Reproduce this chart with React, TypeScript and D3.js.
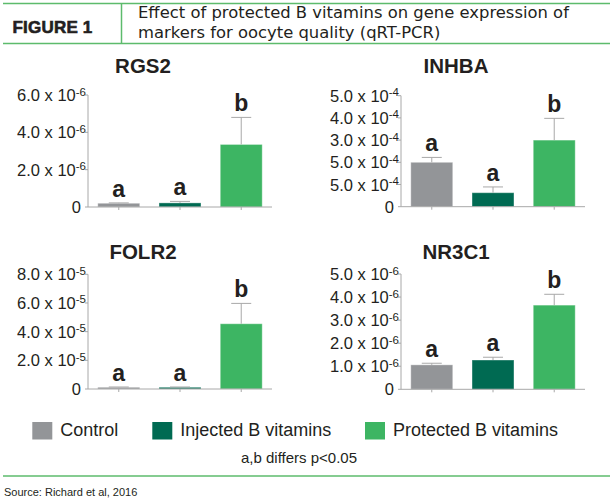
import React from 'react';
import * as d3 from 'd3';

// Treatment groups and colours
const groups = ['Control', 'Injected B vitamins', 'Protected B vitamins'];
const groupColors = ['#939598', '#006a52', '#3db563'];

// Mean expression and top of error bar (in units of the panel exponent)
const rgs2Means = [0.2, 0.22, 3.35];
const rgs2ErrTop = [0.22, 0.3, 4.8];
const inhbaMeans = [2.0, 0.63, 3.0];
const inhbaErrTop = [2.22, 0.89, 3.98];
const folr2Means = [0.12, 0.12, 4.55];
const folr2ErrTop = [0.14, 0.14, 5.97];
const nr3c1Means = [1.06, 1.27, 3.65];
const nr3c1ErrTop = [1.13, 1.39, 4.12];

// Significance letters
const rgs2Letters = ['a', 'a', 'b'];
const inhbaLetters = ['a', 'a', 'b'];
const folr2Letters = ['a', 'a', 'b'];
const nr3c1Letters = ['a', 'a', 'b'];

// Axis ticks and their printed mantissas
const rgs2Ticks = [0, 2, 4, 6];
const rgs2TickLabels = ['0', '2.0', '4.0', '6.0'];
const inhbaTicks = [0, 1, 2, 3, 4, 5];
const inhbaTickLabels = ['0', '5.0', '5.0', '3.0', '4.0', '5.0'];
const folr2Ticks = [0, 2, 4, 6, 8];
const folr2TickLabels = ['0', '2.0', '4.0', '6.0', '8.0'];
const nr3c1Ticks = [0, 1, 2, 3, 4, 5];
const nr3c1TickLabels = ['0', '1.0', '2.0', '3.0', '4.0', '5.0'];

const FONT = '"Liberation Sans", Arial, sans-serif';
const HEAD_FONT = '"DejaVu Sans", sans-serif';
const GREEN_RULE = '#5dbb6c';
const AXIS = '#a8a8a8';
const INK = '#231f20';

interface PanelProps {
  title: string;
  means: number[];
  errTop: number[];
  letters: string[];
  ticks: number[];
  tickLabels: string[];
  exponent: string;
  axisX: number;
  y0: number;
  yTop: number;
  titleY: number;
}

function Panel({ title, means, errTop, letters, ticks, tickLabels, exponent, axisX, y0, yTop, titleY }: PanelProps) {
  const width = 184;
  const x = d3.scaleBand<string>()
    .domain(groups)
    .range([axisX, axisX + width])
    .paddingInner(0.315)
    .paddingOuter(0.16);
  const y = d3.scaleLinear()
    .domain([0, ticks[ticks.length - 1]])
    .range([y0, yTop]);
  const bw = x.bandwidth();

  return (
    <g>
      <text x={axisX + 55} y={titleY} textAnchor="middle" fontFamily={FONT}
        fontWeight="bold" fontSize={20.5} fill={INK}>{title}</text>

      {/* y axis */}
      <line x1={axisX} x2={axisX} y1={yTop} y2={y0} stroke={AXIS} />
      {ticks.map((t, i) => (
        <g key={t}>
          <line x1={axisX - 3} x2={axisX} y1={y(t)} y2={y(t)} stroke={AXIS} />
          {t === 0 ? (
            <text x={axisX - 7} y={y(t) + 6} textAnchor="end" fontFamily={FONT}
              fontSize={16.5} fill={INK}>0</text>
          ) : (
            <text x={axisX - 2} y={y(t) + 6} textAnchor="end" fontFamily={FONT}
              fontSize={16.5} fill={INK}>
              {tickLabels[i]} x 10
              <tspan fontSize={11.5} dy={-5.5}>{exponent}</tspan>
            </text>
          )}
        </g>
      ))}

      {/* bars with upward error bars */}
      {groups.map((g, i) => {
        const cx = (x(g) as number) + bw / 2;
        const ye = y(errTop[i]);
        return (
          <g key={g}>
            <rect x={x(g)} y={y(means[i])} width={bw} height={y0 - y(means[i])}
              fill={groupColors[i]} stroke="#ffffff" strokeOpacity={0.35} strokeWidth={1} />
            <line x1={cx} x2={cx} y1={y(means[i])} y2={ye} stroke={AXIS} />
            <line x1={cx - 10} x2={cx + 10} y1={ye} y2={ye} stroke={AXIS} />
            <text x={cx} y={ye - 6} textAnchor="middle" fontFamily={FONT}
              fontWeight="bold" fontSize={23} fill={INK}>{letters[i]}</text>
          </g>
        );
      })}

      {/* x axis */}
      <line x1={axisX} x2={axisX + width} y1={y0} y2={y0} stroke={AXIS} />
      {groups.map(g => {
        const cx = (x(g) as number) + bw / 2;
        return <line key={g} x1={cx} x2={cx} y1={y0} y2={y0 + 3} stroke={AXIS} />;
      })}
    </g>
  );
}

export default function App() {
  return (
    <svg width={610} height={500} style={{ position: 'absolute', left: 0, top: 0 }}>
      <rect width={610} height={500} fill="#ffffff" />

      {/* header */}
      <line x1={3} x2={610} y1={3.5} y2={3.5} stroke={GREEN_RULE} strokeWidth={1.5} />
      <line x1={3} x2={610} y1={43.5} y2={43.5} stroke={GREEN_RULE} strokeWidth={1.5} />
      <line x1={121.5} x2={121.5} y1={3.5} y2={43.5} stroke={GREEN_RULE} strokeWidth={1.5} />
      <text x={12.5} y={33.3} fontFamily={FONT} fontWeight="bold" fontSize={17}
        letterSpacing={0.2} stroke={INK} strokeWidth={0.6} fill={INK}>FIGURE 1</text>
      <text x={138} y={17.5} fontFamily={HEAD_FONT} fontSize={16.4} fill={INK}>
        Effect of protected B vitamins on gene expression of
      </text>
      <text x={138} y={37.5} fontFamily={HEAD_FONT} fontSize={16.4} fill={INK}>
        markers for oocyte quality (qRT-PCR)
      </text>

      <Panel title="RGS2" means={rgs2Means} errTop={rgs2ErrTop} letters={rgs2Letters}
        ticks={rgs2Ticks} tickLabels={rgs2TickLabels} exponent="-6"
        axisX={88} y0={207} yTop={95} titleY={73} />
      <Panel title="INHBA" means={inhbaMeans} errTop={inhbaErrTop} letters={inhbaLetters}
        ticks={inhbaTicks} tickLabels={inhbaTickLabels} exponent="-4"
        axisX={401} y0={206.7} yTop={95.7} titleY={73} />
      <Panel title="FOLR2" means={folr2Means} errTop={folr2ErrTop} letters={folr2Letters}
        ticks={folr2Ticks} tickLabels={folr2TickLabels} exponent="-5"
        axisX={88} y0={389} yTop={274.3} titleY={259.3} />
      <Panel title="NR3C1" means={nr3c1Means} errTop={nr3c1ErrTop} letters={nr3c1Letters}
        ticks={nr3c1Ticks} tickLabels={nr3c1TickLabels} exponent="-6"
        axisX={401} y0={389.3} yTop={274} titleY={259.3} />

      {/* legend */}
      {groups.map((g, i) => {
        const lx = [32.3, 152.3, 365][i];
        return (
          <g key={g}>
            <rect x={lx} y={422} width={20} height={17.5} fill={groupColors[i]} />
            <text x={lx + 28} y={436} fontFamily={FONT} fontSize={18} fill={INK}>{g}</text>
          </g>
        );
      })}
      <text x={299} y={463} textAnchor="middle" fontFamily={FONT} fontSize={15} fill={INK}>
        a,b differs p&lt;0.05
      </text>

      {/* footer */}
      <line x1={3} x2={610} y1={476} y2={476} stroke={GREEN_RULE} strokeWidth={1.5} />
      <text x={4} y={496} fontFamily={FONT} fontSize={11} fill={INK}>Source: Richard et al, 2016</text>
    </svg>
  );
}
